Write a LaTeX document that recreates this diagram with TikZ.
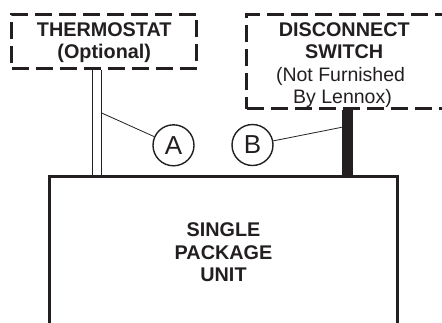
\documentclass[tikz,border=0pt]{standalone}
\usepackage{fontspec}
\setmainfont{Liberation Sans}
\definecolor{ink}{HTML}{231F20}
\begin{document}
\begin{tikzpicture}[x=1pt,y=-1pt,
  dashbox/.style={draw=ink,line width=3pt,dash pattern=on 17pt off 7pt,rectangle,inner sep=0pt},
  unitbox/.style={draw=ink,line width=3pt,rectangle,inner sep=0pt},
  lbl/.style={text=ink,font=\bfseries\fontsize{19.8}{22}\selectfont,anchor=base,inner sep=0pt},
  lblr/.style={text=ink,font=\fontsize{19.5}{22}\selectfont,anchor=base,inner sep=0pt},
  callout/.style={circle,draw=ink,line width=1.4pt,minimum size=41pt,inner sep=0pt,text=ink,font=\fontsize{26}{26}\selectfont},
  wire/.style={draw=ink,line width=0.9pt},
  leader/.style={draw=ink,line width=0.8pt}]
\useasboundingbox (0,0) rectangle (442,322);
\clip (0,0) rectangle (442,322);

% boxes
\node[dashbox,minimum width=185pt,minimum height=54pt] (thermo) at (104.2,41.3) {};
\node[dashbox,minimum width=223.3pt,minimum height=94.4pt] (disc) at (358.35,61.5) {};
\node[unitbox,minimum width=348.7pt,minimum height=243.5pt] (unit) at (223.35,298.25) {};

% texts
\node[lbl] (t1) at (104.2,36) {THERMOSTAT};
\node[lbl] (t2) at (104.2,58.3) {(Optional)};
\node[lbl] (d1) at (344.2,36) {DISCONNECT};
\node[lbl] (d2) at (344.2,58.3) {SWITCH};
\node[lblr] (d3) at (340.5,81) {(Not Furnished};
\node[lblr] (d4) at (342.5,103.5) {By Lennox)};
\node[lbl] (u1) at (223.5,236.7) {SINGLE};
\node[lbl] (u2) at (223.5,259.3) {PACKAGE};
\node[lbl] (u3) at (223.5,281.7) {UNIT};

% wiring
\coordinate (w1) at (92.7,0);
\coordinate (w2) at (101.7,0);
\coordinate (bx) at (347.5,0);
\draw[wire] (thermo.south -| w1) -- (unit.north -| w1);
\draw[wire] (thermo.south -| w2) -- (unit.north -| w2);
\draw[draw=ink,line width=11.7pt] (disc.south -| bx) -- (unit.north -| bx);

% callouts
\node[callout] (A) at (173.5,145.3) {A};
\node[callout] (B) at (252.5,145) {B};
\coordinate (la) at (101.7,113);
\coordinate (lb) at (341.7,127.3);
\draw[leader] (la) -- (A);
\draw[leader] (lb) -- (B);
\end{tikzpicture}
\end{document}
